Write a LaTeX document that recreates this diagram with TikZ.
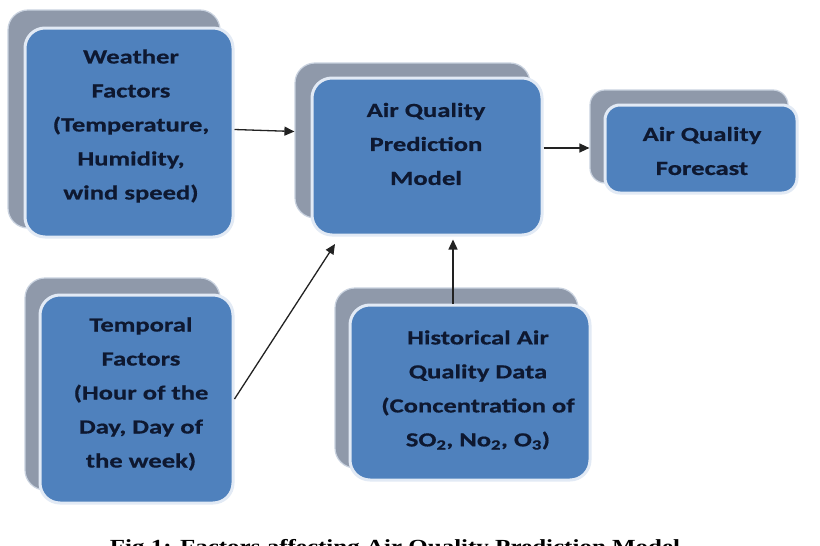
\documentclass[tikz,border=0pt]{standalone}
\usepackage{fontspec}
\usetikzlibrary{arrows.meta,calc}
\newfontfamily\boxfont{Carlito}[FakeStretch=1.33, BoldFeatures={FakeBold=0.6}]
\newfontfamily\capfont{Liberation Serif}[FakeStretch=1.25]
\definecolor{boxblue}{RGB}{79,129,189}
\definecolor{shadowgray}{RGB}{143,153,170}
\definecolor{rimcol}{RGB}{226,234,245}
\definecolor{txtcol}{RGB}{14,24,48}
\definecolor{arrcol}{RGB}{34,34,34}
\tikzset{
  frontbox/.style={draw=rimcol, line width=3pt, fill=boxblue, rounded corners=20pt, inner sep=0pt},
  backbox/.style={draw=rimcol!70!shadowgray, line width=1.2pt, fill=shadowgray, rounded corners=20pt, inner sep=0pt},
  boxtext/.style={text=txtcol, align=center, font=\boxfont\bfseries\fontsize{20}{34}\selectfont},
  arr/.style={draw=arrcol, line width=1.3pt, -{Triangle[length=10pt,width=9pt]}},
}
\begin{document}
\begin{tikzpicture}[x=1pt,y=-1pt]
\useasboundingbox (0,0) rectangle (820,546);
\clip (0,0) rectangle (820,546);
\fill[white] (0,0) rectangle (820,546);

% Weather
\node[backbox, minimum width=212pt, minimum height=218pt] (weatherS) at (114,119) {};
\node[frontbox, minimum width=208pt, minimum height=209pt] (weather) at (129,132.5) {};
\node[boxtext] (weatherT) at (131,126) {Weather\\Factors\\(Temperature,\\Humidity,\\wind speed)};

% Model
\node[backbox, minimum width=235pt, minimum height=155pt] (modelS) at (412.5,140.5) {};
\node[frontbox, minimum width=230pt, minimum height=157pt] (model) at (427,156.5) {};
\node[boxtext] (modelT) at (426,144) {Air Quality\\Prediction\\Model};

% Forecast
\node[backbox, rounded corners=15pt, minimum width=198pt, minimum height=93pt] (forecastS) at (689,136.5) {};
\node[frontbox, rounded corners=15pt, minimum width=192pt, minimum height=88pt] (forecast) at (701,149) {};
\node[boxtext] (forecastT) at (702,151) {Air Quality\\Forecast};

% Temporal
\node[backbox, minimum width=195pt, minimum height=212pt] (temporalS) at (122.5,384) {};
\node[frontbox, minimum width=193pt, minimum height=208pt] (temporal) at (136.5,399) {};
\node[boxtext] (temporalT) at (141,394) {Temporal\\Factors\\(Hour of the\\Day, Day of\\the week)};

% Historical
\node[backbox, minimum width=243pt, minimum height=180pt] (histS) at (456.5,378) {};
\node[frontbox, minimum width=240pt, minimum height=175pt] (hist) at (470,392.5) {};
\node[boxtext] (histT) at (478,390) {Historical Air\\Quality Data\\(Concentration of\\SO\textsubscript{2}, No\textsubscript{2}, O\textsubscript{3})};

% Connectors
\coordinate (mIn) at (335,244);
\coordinate (hx) at (453,0);
\draw[arr] ($(weather.east)+(0,-3)$) -- ($(weather.east -| modelS.west)+(0,-1)$);
\draw[arr] (temporal.east) -- (mIn);
\draw[arr] (hist.north -| hx) -- ($(model.south -| hx)+(0,3)$);
\draw[arr] ($(forecast.west -| model.east)+(0,-1)$) -- ($(forecast.west -| forecastS.west)+(0,-1)$);

% Caption (cut off at the bottom edge, as in the reference)
\node[anchor=base, inner sep=0pt, font=\capfont\bfseries\fontsize{20}{20}\selectfont] (caption) at (395,553) {Fig 1: Factors affecting Air Quality Prediction Model};
\end{tikzpicture}
\end{document}
